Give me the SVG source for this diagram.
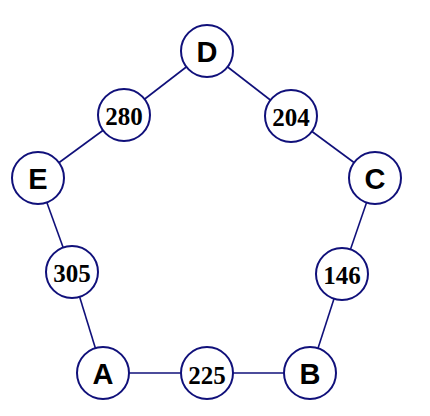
<svg xmlns="http://www.w3.org/2000/svg" width="430" height="416" viewBox="0 0 430 416">
<style>
.n{fill:#fff;stroke:#10107a;stroke-width:2}
.e{stroke:#10107a;stroke-width:1.6;fill:none}
.l{font-family:"Liberation Sans",Arial,sans-serif;font-weight:bold;font-size:29px;text-anchor:middle;dominant-baseline:central;fill:#000}
.w{font-family:"Liberation Serif","Times New Roman",serif;font-weight:bold;font-size:25px;text-anchor:middle;dominant-baseline:central;fill:#000}
</style>
<rect width="430" height="416" fill="#fff"/>
<g id="connectors">
<line class="e" x1="207" y1="51" x2="124" y2="115"/>
<line class="e" x1="124" y1="115" x2="38" y2="178"/>
<line class="e" x1="207" y1="51" x2="291" y2="116"/>
<line class="e" x1="291" y1="116" x2="375" y2="178"/>
<line class="e" x1="38" y1="178" x2="72" y2="272"/>
<line class="e" x1="72" y1="272" x2="103" y2="373"/>
<line class="e" x1="375" y1="178" x2="342" y2="274"/>
<line class="e" x1="342" y1="274" x2="310" y2="373"/>
<line class="e" x1="103" y1="373" x2="310" y2="373"/>
</g>
<g id="D"><circle class="n" cx="207" cy="51" r="26"/><text class="l" x="207" y="52">D</text></g>
<g id="E"><circle class="n" cx="38" cy="178" r="26"/><text class="l" x="38" y="179">E</text></g>
<g id="C"><circle class="n" cx="375" cy="178" r="26"/><text class="l" x="375" y="179">C</text></g>
<g id="A"><circle class="n" cx="103" cy="373" r="26"/><text class="l" x="103" y="374">A</text></g>
<g id="B"><circle class="n" cx="310" cy="373" r="26"/><text class="l" x="310" y="374">B</text></g>
<g id="w280"><circle class="n" cx="124" cy="115" r="26"/><text class="w" x="124" y="116">280</text></g>
<g id="w204"><circle class="n" cx="291" cy="116" r="26"/><text class="w" x="291" y="117">204</text></g>
<g id="w305"><circle class="n" cx="72" cy="272" r="26"/><text class="w" x="72" y="273">305</text></g>
<g id="w146"><circle class="n" cx="342" cy="274" r="26"/><text class="w" x="342" y="275">146</text></g>
<g id="w225"><circle class="n" cx="207" cy="373" r="26"/><text class="w" x="207" y="375">225</text></g>
</svg>
